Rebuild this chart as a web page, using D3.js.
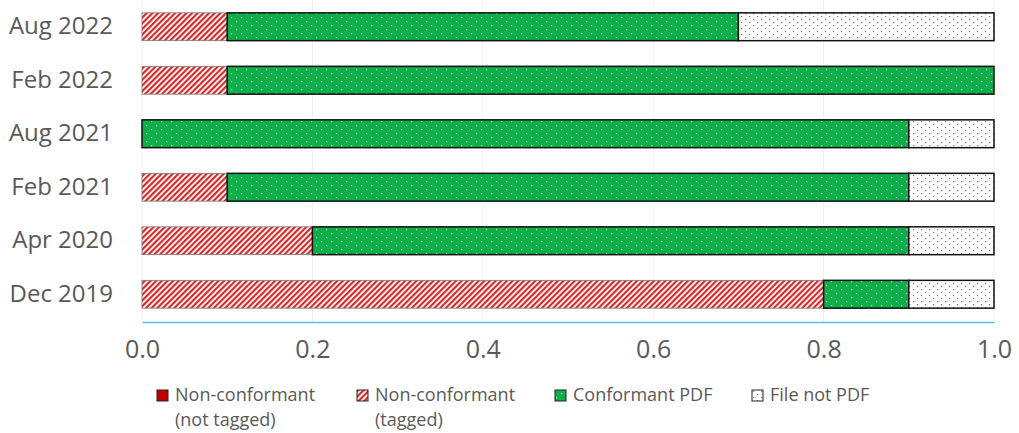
<!DOCTYPE html>
<html><head><meta charset="utf-8">
<script src="https://cdn.jsdelivr.net/npm/d3@7"></script>
<style>body{margin:0;background:#fff}svg{display:block}text{font-family:"Open Sans",sans-serif;fill:#595959}</style>
</head><body>
<script>
const categories = ["Aug 2022","Feb 2022","Aug 2021","Feb 2021","Apr 2020","Dec 2019"];
const seriesNames = ["Non-conformant (not tagged)","Non-conformant (tagged)","Conformant PDF","File not PDF"];
const notTagged = [0,0,0,0,0,0];
const tagged = [0.1,0.1,0,0.1,0.2,0.8];
const conformant = [0.6,0.9,0.9,0.8,0.7,0.1];
const notPdf = [0.3,0,0.1,0.1,0.1,0.1];
const xTicks = [0,0.2,0.4,0.6,0.8,1.0];
const legendLines = [["Non-conformant","(not tagged)"],["Non-conformant","(tagged)"],["Conformant PDF"],["File not PDF"]];

const W=1019,H=433;
const svg=d3.select("body").append("svg").attr("width",W).attr("height",H);
const defs=svg.append("defs");
// hatch
const ph=defs.append("pattern").attr("id","hatch").attr("patternUnits","userSpaceOnUse").attr("width",4).attr("height",4).attr("patternTransform","rotate(45)");
ph.append("rect").attr("width",4).attr("height",4).attr("fill","#fff");
ph.append("rect").attr("width",2.2).attr("height",4).attr("fill","#d42a2a");
// green dots
const pg=defs.append("pattern").attr("id","gdots").attr("patternUnits","userSpaceOnUse").attr("width",10).attr("height",8);
pg.append("rect").attr("width",10).attr("height",8).attr("fill","#0fae4a");
pg.append("rect").attr("x",1).attr("y",1).attr("width",1.2).attr("height",1.2).attr("fill","#a8e4bc");
pg.append("rect").attr("x",6).attr("y",5).attr("width",1.2).attr("height",1.2).attr("fill","#a8e4bc");
// white dots
const pw=defs.append("pattern").attr("id","wdots").attr("patternUnits","userSpaceOnUse").attr("width",8).attr("height",6);
pw.append("rect").attr("width",8).attr("height",6).attr("fill","#fff");
pw.append("rect").attr("x",1).attr("y",1).attr("width",1.2).attr("height",1.2).attr("fill","#777");
pw.append("rect").attr("x",5).attr("y",4).attr("width",1.2).attr("height",1.2).attr("fill","#777");

const fills=["#c00000","url(#hatch)","url(#gdots)","url(#wdots)"];
const strokes=["#222","#777","#111","#111"];
const x=d3.scaleLinear().domain([0,1]).range([142,994]);
const y=d3.scaleBand().domain(categories).range([0,321]).paddingInner(0.48).paddingOuter(0.24);

// gridlines
svg.append("g").selectAll("line").data(xTicks).join("line")
 .attr("x1",d=>x(d)).attr("x2",d=>x(d)).attr("y1",0).attr("y2",321)
 .attr("stroke","#f0f0f0").attr("stroke-width",1);

const rows=categories.map((c,i)=>({c,vals:[notTagged[i],tagged[i],conformant[i],notPdf[i]]}));
const g=svg.append("g");
rows.forEach(r=>{
  let acc=0;
  r.vals.forEach((v,k)=>{
    if(v>0){
      g.append("rect").attr("x",x(acc)).attr("y",y(r.c)).attr("width",x(acc+v)-x(acc)).attr("height",y.bandwidth())
       .attr("fill",fills[k]).attr("stroke",strokes[k]).attr("stroke-width",k===1?0.8:1.5);
    }
    acc+=v;
  });
});

// x axis
const xa=svg.append("g").attr("transform","translate(0,322)").call(d3.axisBottom(x).tickValues(xTicks).tickFormat(d3.format(".1f")).tickSize(0).tickPadding(18));
xa.select(".domain").attr("stroke","#4dc3f0").attr("stroke-width",1.5);
xa.selectAll("text").attr("font-size",25).attr("fill","#595959").attr("font-family","Open Sans");

// y labels
const ya=svg.append("g").attr("transform","translate(142,0)").call(d3.axisLeft(y).tickSize(0).tickPadding(29));
ya.select(".domain").remove();
ya.selectAll("text").attr("font-size",24).attr("fill","#404040").attr("font-family","Open Sans");

// legend
const lx=[157,357,555,752];
const lg=svg.append("g");
seriesNames.forEach((n,k)=>{
  lg.append("rect").attr("x",lx[k]).attr("y",390).attr("width",11).attr("height",11).attr("fill",fills[k]).attr("stroke","#222").attr("stroke-width",1);
  const t=lg.append("text").attr("x",lx[k]+18).attr("y",401).attr("font-size",18).attr("fill","#595959");
  legendLines[k].forEach((ln,j)=>t.append("tspan").attr("x",lx[k]+18).attr("y",401+j*25).text(ln));
});
</script>
</body></html>
